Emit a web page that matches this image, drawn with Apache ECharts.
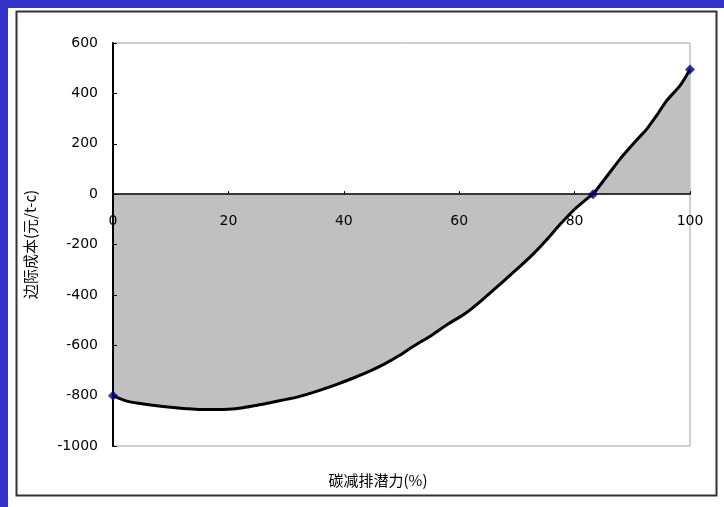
<!DOCTYPE html>
<html>
<head>
<meta charset="utf-8">
<script src="https://cdn.jsdelivr.net/npm/echarts@6/dist/echarts.min.js"></script>
<style>
html,body{margin:0;padding:0;background:#3333CC;}
#main{width:724px;height:507px;}
</style>
</head>
<body>
<div id="main"></div>
<script>
// Curve data: carbon reduction potential (%) vs marginal cost (元/t-c)
var xValues = [0, 2.4, 5, 7.6, 10, 12.8, 15, 18, 20, 22.5, 25, 27.2, 30, 31.9, 35, 38.8, 42, 44.5, 47, 49.7, 52, 55.5, 58, 61.3, 64, 67.1, 70, 72.8, 75, 77.5, 80, 82.7, 83.2, 85.6, 87.9, 89.1, 91.3, 92.5, 94.3, 96, 98.3, 100];
var yValues = [-800, -822, -832, -840, -846, -852, -855, -855, -854, -848, -838, -828, -815, -806, -785, -755, -727, -703, -675, -640, -605, -556, -517, -470, -420, -357, -298, -238, -185, -120, -60, -8, 0, 71, 140, 172, 228, 258, 315, 372, 432, 495];
// Highlighted points (diamond markers)
var markerX = [0, 83.2, 100];
var markerY = [-800, 0, 495];
// Axis settings
var xTicks = [0, 20, 40, 60, 80, 100];
var yTicks = [-1000, -800, -600, -400, -200, 0, 200, 400, 600];
var xTitle = '碳减排潜力(%)';
var yTitle = '边际成本(元/t-c)';

var curve = xValues.map(function (x, i) { return [x, yValues[i]]; });
var markers = markerX.map(function (x, i) { return [x, markerY[i]]; });

var gridTop = 43, gridBottom = 61, chartH = 507;
var plotH = chartH - gridTop - gridBottom;
var yMin = yTicks[0], yMax = yTicks[yTicks.length - 1];
var zeroOffset = -plotH * (0 - yMin) / (yMax - yMin);

var chart = echarts.init(document.getElementById('main'));
chart.setOption({
  backgroundColor: '#3333CC',
  animation: false,
  graphic: [
    { type: 'rect', z: -10, shape: { x: 8, y: 8, width: 716, height: 499 }, style: { fill: '#ffffff' } },
    { type: 'rect', z: -9, shape: { x: 16.5, y: 11.5, width: 700, height: 484 }, style: { fill: 'none', stroke: '#333333', lineWidth: 2 } },
    { type: 'text', x: 378, y: 480, style: { text: xTitle, font: '15px "Noto Sans CJK SC"', fill: '#000', textAlign: 'center', textVerticalAlign: 'middle' } }
  ],
  grid: { left: 113, right: 34, top: gridTop, bottom: gridBottom, show: true, borderColor: '#a0a0a0', borderWidth: 1, backgroundColor: 'transparent' },
  xAxis: {
    type: 'value', min: xTicks[0], max: xTicks[xTicks.length - 1], interval: 20,
    position: 'bottom', offset: zeroOffset, z: 10,
    axisLine: { onZero: false, lineStyle: { color: '#000', width: 1.5 } },
    axisTick: { inside: true, length: 3, lineStyle: { color: '#000' } },
    axisLabel: { margin: 20, color: '#000', fontFamily: 'DejaVu Sans', fontSize: 14 },
    splitLine: { show: false }
  },
  yAxis: {
    type: 'value', min: yMin, max: yMax, interval: 200, z: 10,
    name: yTitle, nameLocation: 'middle', nameGap: 75,
    nameTextStyle: { color: '#000', fontFamily: 'Noto Sans CJK SC', fontSize: 15 },
    axisLine: { show: true, lineStyle: { color: '#000', width: 2 } },
    axisTick: { show: true, inside: true, length: 4, lineStyle: { color: '#000' } },
    axisLabel: { margin: 15, color: '#000', fontFamily: 'DejaVu Sans', fontSize: 14, formatter: function (v) { return String(v); } },
    splitLine: { show: false }
  },
  series: [
    {
      type: 'line', data: curve, showSymbol: false, symbol: 'none', smooth: 0.3,
      lineStyle: { color: '#000', width: 3 },
      areaStyle: { color: '#C0C0C0', opacity: 1, origin: 'auto' },
      z: 2
    },
    {
      type: 'scatter', data: markers, symbol: 'diamond', symbolSize: 10,
      itemStyle: { color: '#000080' }, z: 12
    }
  ]
});
</script>
</body>
</html>
